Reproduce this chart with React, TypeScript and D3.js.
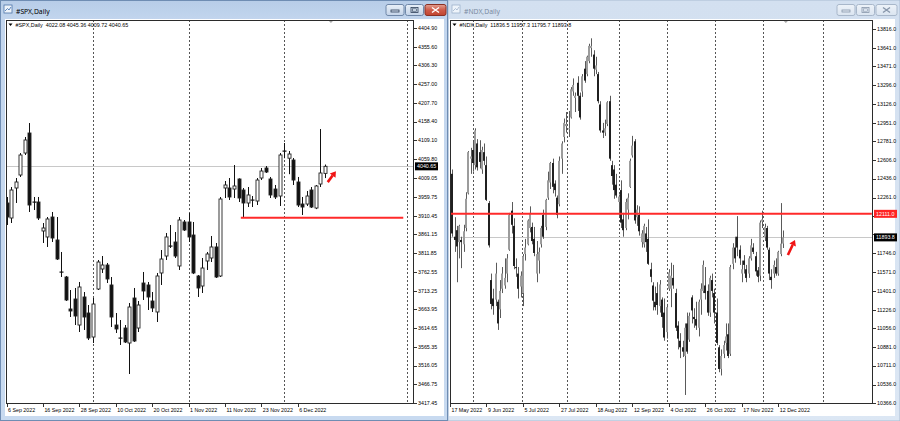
import React from 'react';
import * as d3 from 'd3';

// ---------------- SPX data (Daily, from 6 Sep 2022) ----------------
const spxOpen = [3944.1,3904.6,3983.6,4017.8,4075.7,4128.4,3944.1,3946.7,3870.4,3854.6,3907.2,3846.7,3762.4,3749.2,3665.0,3691.3,3622.8,3696.6,3654.4,3591.2,3717.6,3770.3,3780.8,3728.2,3622.8,3588.6,3614.9,3575.4,3693.9,3614.9,3733.4,3728.2,3686.0,3657.1,3759.8,3804.5,3830.9,3841.4,3778.2,3894.1,3894.1,3859.8,3751.9,3725.5,3791.4,3799.3,3828.3,3751.9,3983.6,3983.6,3980.9,4007.3,3978.3,3944.1,3949.3,3949.3,4009.9,4036.2,4007.3,3980.9,3962.5,4078.0,4062.0,4057.3,3999.4,3941.4,3941.4,3978.3,3930.9,3994.1,4022.08];
const spxHigh = [3959.9,3986.2,4009.9,4075.7,4117.9,4154.7,3959.9,3959.9,3891.4,3907.2,3920.4,3907.2,3815.1,3751.9,3715.0,3720.3,3736.1,3709.7,3675.5,3693.9,3794.0,3804.5,3786.1,3749.2,3654.4,3636.0,3622.8,3680.8,3720.3,3686.0,3762.4,3736.1,3709.7,3759.8,3820.3,3865.1,3886.2,3867.7,3907.2,3899.3,3917.8,3894.1,3754.5,3799.3,3815.1,3857.2,3838.8,3959.9,4002.0,4009.9,4044.1,4009.0,3983.6,3986.2,3962.5,4009.9,4036.2,4041.5,4012.6,3991.5,4075.7,4102.1,4081.0,4062.6,4012.6,3959.9,3975.7,3986.2,3991.5,4138.9,4045.36];
const spxLow = [3886.2,3891.4,3944.1,4012.6,4070.5,3920.4,3925.6,3899.3,3838.8,3828.3,3841.4,3794.0,3749.2,3686.0,3643.9,3622.8,3604.4,3609.7,3583.3,3575.4,3715.0,3759.8,3733.4,3617.6,3601.8,3570.2,3575.4,3493.8,3578.1,3604.4,3688.7,3662.3,3657.1,3630.7,3728.2,3794.0,3825.6,3799.3,3767.7,3870.4,3841.4,3757.0,3696.6,3707.1,3767.7,3788.7,3746.6,3749.2,3957.2,3952.0,3957.2,3946.7,3904.6,3933.5,3933.5,3938.8,4004.6,4023.1,3957.2,3954.6,3936.2,4062.0,4020.0,3991.5,3933.5,3912.5,3936.2,3930.9,3928.0,3986.2,4009.72];
const spxClose = [3907.2,3978.3,3999.4,4070.5,4110.0,3938.8,3946.7,3904.6,3878.3,3902.0,3851.9,3796.6,3759.8,3688.7,3659.7,3646.5,3722.9,3643.9,3588.6,3678.1,3788.7,3780.8,3744.0,3643.9,3612.3,3586.0,3578.1,3670.2,3580.7,3675.5,3712.4,3696.6,3667.6,3751.9,3796.6,3854.6,3828.3,3804.5,3899.3,3873.0,3854.6,3759.8,3720.3,3772.9,3809.8,3828.3,3749.2,3954.6,3991.5,3959.9,3988.9,3957.2,3944.1,3965.2,3952.0,4004.6,4028.3,4025.7,3965.2,3959.9,4070.5,4081.0,4073.1,4004.6,3938.8,3933.5,3962.5,3933.5,3988.9,4023.1,4040.65];
const spxDateLabels = ['6 Sep 2022','16 Sep 2022','28 Sep 2022','10 Oct 2022','20 Oct 2022','1 Nov 2022','11 Nov 2022','23 Nov 2022','6 Dec 2022'];
const spxDateBars = [0,8,16,24,32,40,48,56,64];
const spxPriceTicks = [4404.90,4355.60,4306.30,4257.00,4207.70,4158.40,4109.10,4059.80,4009.05,3959.75,3910.45,3861.15,3811.85,3762.55,3713.25,3663.95,3614.65,3565.35,3516.05,3466.75,3417.45];
const spxGridBars = [19,40,61,88];
const spxSupport = [3905];
const spxSupportBars = [51.5,87.2];
const spxArrow = { fromBar: 70.6, fromPrice: 3999, toBar: 72.4, toPrice: 4028 };
const spxLast = 4040.65;

// ---------------- NDX data (Daily, from 17 May 2022) ----------------
const ndxOpen = [12420,12480,11900,11960,11850,11870,11830,11980,12300,12620,12700,12560,12760,12680,12520,12680,12560,12210,11500,11330,11320,11300,11230,11420,11450,11560,11780,12140,12000,11620,11560,11440,11380,11740,11830,11980,11990,11880,11560,11680,11830,12100,11990,12260,12400,12580,12390,12260,12200,12620,12820,12920,12900,13000,13240,13180,13320,13200,13240,13450,13400,13520,13640,13580,13440,13400,13120,12880,12860,12940,13150,12560,12520,12380,12220,12330,12060,11980,12150,12360,12650,12780,12080,12100,11850,11830,11930,11880,11600,11450,11300,11380,11260,11320,11200,11020,11420,11420,11520,11380,11080,10940,10880,10800,11100,10950,11340,11160,11140,11060,11320,11400,11450,11400,11200,11500,11380,11200,10880,10680,10820,10920,11000,10820,11650,11800,11900,11780,11560,11680,11600,11560,11700,11800,11720,11590,11540,12040,11900,11980,11780,11530,11560,11620,11560,11740,11836.5];
const ndxHigh = [12580,12520,12080,12000,12010,11900,12010,12310,12690,12720,12780,12900,12800,12790,12730,12760,12640,12230,11560,11420,11660,11320,11500,11620,11700,11740,12120,12220,12070,11700,11620,11580,11740,11880,12060,12180,12030,11990,11860,11800,12000,12150,12250,12500,12590,12620,12420,12280,12640,12780,12990,13050,13060,13280,13360,13230,13380,13230,13400,13520,13570,13680,13730,13620,13560,13420,13150,12950,12980,13150,13200,12600,12560,12480,12290,12420,12120,12250,12300,12620,12830,12800,12190,12180,11960,12020,11990,12060,11660,11480,11440,11480,11500,11340,11330,11280,11600,11660,11640,11420,11120,11010,10940,11100,11200,11200,11360,11240,11300,11320,11470,11680,11620,11460,11540,11560,11420,11330,10900,10860,10940,11100,11100,11640,11840,11900,12090,11820,11680,11730,11640,11720,11880,11840,11760,11620,12050,12140,12020,12000,11800,11600,11680,11700,11770,12210,11957.3];
const ndxLow = [12350,11900,11760,11480,11700,11610,11760,11950,12290,12480,12500,12520,12510,12530,12480,12560,12230,11800,11230,11180,11260,11040,11150,11380,11420,11480,11770,11930,11600,11530,11330,11340,11260,11680,11820,11940,11830,11720,11480,11560,11800,11880,11960,12240,12340,12300,12270,12070,12180,12480,12770,12860,12820,12990,13200,13050,13060,12980,13190,13320,13380,13500,13560,13380,13400,13130,12860,12810,12830,12920,12600,12380,12250,12260,12080,11980,11900,11960,12060,12350,12630,12020,12000,11910,11800,11800,11760,11640,11480,11220,11220,11180,11200,11060,10940,10960,11400,11250,11420,11030,10860,10780,10790,10440,10820,10930,11100,11060,11040,10980,11180,11380,11320,11170,11160,11340,11100,10900,10650,10620,10780,10850,10780,10800,11600,11660,11720,11640,11480,11560,11480,11520,11680,11740,11540,11480,11490,11980,11860,11780,11500,11420,11520,11540,11540,11720,11795.7];
const ndxClose = [12564,11930,11870,11810,12000,11850,11950,12250,12680,12640,12580,12880,12540,12590,12700,12600,12240,11820,11280,11260,11560,11100,11400,11560,11520,11700,12100,12010,11630,11610,11420,11540,11720,11800,12050,12120,11860,11750,11740,11760,11980,11900,12240,12420,12580,12360,12330,12100,12600,12760,12950,12940,12900,13260,13300,13200,13200,13000,13380,13340,13560,13660,13660,13450,13480,13150,12880,12860,12900,13140,12620,12460,12330,12280,12270,12030,11960,12220,12260,12600,12740,12050,12150,11950,11930,12000,11850,11650,11530,11310,11250,11270,11460,11160,10970,11250,11570,11540,11450,11060,10960,10880,10840,11060,10840,11170,11220,11140,11080,11300,11420,11640,11380,11200,11520,11400,11200,10920,10680,10800,10900,10980,10800,11620,11800,11700,11800,11700,11600,11640,11520,11700,11820,11760,11580,11530,12030,12060,11990,11800,11560,11500,11640,11560,11760,11836,11893.8];
const ndxDateLabels = ['17 May 2022','9 Jun 2022','5 Jul 2022','27 Jul 2022','18 Aug 2022','12 Sep 2022','4 Oct 2022','26 Oct 2022','17 Nov 2022','12 Dec 2022'];
const ndxDateBars = [0,16,32,48,64,80,96,112,128,144];
const ndxPriceTicks = [13816.0,13641.0,13471.0,13296.0,13126.0,12951.0,12781.0,12606.0,12436.0,12261.0,12091.0,11921.0,11746.0,11571.0,11401.0,11226.0,11056.0,10881.0,10711.0,10536.0,10366.0];
const ndxGridBars = [10.1,31.6,51.3,74.1,95.2,116.2,137.3,163.6];
const ndxResistance = [12111.0];
const ndxResistanceBars = [-2,185];
const ndxArrow = { fromBar: 148.2, fromPrice: 11731, toBar: 151.3, toPrice: 11869 };
const ndxLast = 11893.8;

const FONT = 'Liberation Sans, Arial, sans-serif';

type PanelCfg = {
  title: string; header: string; active: boolean;
  winX0: number; winX1: number;
  plotX0: number; plotX1: number; plotY0: number; plotY1: number;
  barX0: number; barStep: number;
  priceDomain: [number, number]; priceRange: [number, number];
  open: number[]; high: number[]; low: number[]; close: number[];
  dateLabels: string[]; dateBars: number[]; priceTicks: number[]; decimals: number;
  gridBars: number[]; level: number[]; levelBars: number[]; levelBox: boolean;
  arrow: { fromBar: number; fromPrice: number; toBar: number; toPrice: number };
  last: number; bodyW: number; narrow: boolean; clipId: string;
};

function Arrow({ x1, y1, x2, y2 }: { x1: number; y1: number; x2: number; y2: number }) {
  const ang = Math.atan2(y2 - y1, x2 - x1);
  const hl = 5.5, hw = 3.6;
  const bx = x2 - hl * Math.cos(ang), by = y2 - hl * Math.sin(ang);
  const px = -Math.sin(ang), py = Math.cos(ang);
  const head = `M${x2},${y2}L${bx + px * hw},${by + py * hw}L${bx - px * hw},${by - py * hw}Z`;
  return (
    <g>
      <line x1={x1} y1={y1} x2={bx} y2={by} stroke="#f01414" strokeWidth={2.6} />
      <path d={head} fill="#f01414" />
    </g>
  );
}

function Buttons({ x, active }: { x: number; active: boolean }) {
  const stroke = active ? '#6f87a8' : '#a8b7ca';
  const fill = active ? 'url(#btnA)' : 'url(#btnI)';
  const glyph = active ? '#2c3e57' : '#8796aa';
  return (
    <g>
      <rect x={x} y={4.5} width={18} height={11} rx={2} fill={fill} stroke={stroke} />
      <rect x={x + 5} y={10} width={8} height={2} fill="none" stroke={glyph} strokeWidth={0.8} />
      <rect x={x + 19.5} y={4.5} width={18} height={11} rx={2} fill={fill} stroke={stroke} />
      <rect x={x + 25} y={7.5} width={7} height={5} fill="none" stroke={glyph} strokeWidth={0.8} />
      <rect x={x + 26.5} y={8.8} width={4} height={2.4} fill="none" stroke={glyph} strokeWidth={0.6} />
      <rect x={x + 39} y={4.5} width={21} height={11} rx={2} fill={active ? 'url(#btnC)' : fill} stroke={active ? '#8a3024' : stroke} />
      <path d={`M${x + 46},${7.5}L${x + 53},${12.5}M${x + 53},${7.5}L${x + 46},${12.5}`} stroke={active ? '#ffffff' : glyph} strokeWidth={1.4} />
    </g>
  );
}

function Panel({ c }: { c: PanelCfg }) {
  const n = c.open.length;
  const x = d3.scaleLinear().domain([0, 1]).range([c.barX0, c.barX0 + c.barStep]);
  const y = d3.scaleLinear().domain(c.priceDomain).range(c.priceRange);
  const fmt = (v: number) => v.toFixed(c.decimals);
  const lastY = y(c.last);
  const boxYs = [lastY, ...(c.levelBox ? c.level.map((lv) => y(lv)) : [])];
  const candles = d3.range(n).map((i) => {
    const cx = Math.round(x(i));
    const o = y(c.open[i]), cl = y(c.close[i]), h = y(c.high[i]), l = y(c.low[i]);
    const bull = c.close[i] >= c.open[i];
    const top = Math.min(o, cl), bh = Math.max(Math.abs(o - cl), 1);
    const wickColor = c.narrow ? '#5a5a5a' : '#111';
    let body;
    if (c.narrow) {
      body = <rect x={cx - 1} y={top} width={c.bodyW} height={bh} fill={bull ? '#9c9c9c' : '#202020'} />;
    } else if (Math.abs(o - cl) < 1.2) {
      body = <rect x={cx - 1.5} y={top - 0.5} width={c.bodyW + 1} height={1.2} fill="#111" />;
    } else {
      body = <rect x={cx - 1} y={top} width={c.bodyW} height={bh} fill={bull ? '#ffffff' : '#111111'} stroke="#222" strokeWidth={0.9} />;
    }
    return (
      <g key={i}>
        <line x1={cx + 0.5} x2={cx + 0.5} y1={h} y2={l} stroke={wickColor} strokeWidth={1} />
        {body}
      </g>
    );
  });
  const markX = x(n + 0.3);
  const textCol = c.active ? '#000000' : '#7a8ba2';
  return (
    <g>
      {/* title bar text and icon */}
      <rect x={c.winX0 + 4} y={5} width={8} height={8} fill="#eef4fb" stroke={c.active ? '#4d74a8' : '#9fb3cc'} strokeWidth={0.8} />
      <path d={`M${c.winX0 + 5},${11}L${c.winX0 + 7.5},${8.5}L${c.winX0 + 9},${10}L${c.winX0 + 11},${7}`} fill="none" stroke={c.active ? '#3b6db0' : '#9fb3cc'} strokeWidth={0.8} />
      <text x={c.winX0 + 16} y={13.5} fontFamily="Noto Sans, sans-serif" fontSize={6.8} fill={textCol}>{c.title}</text>
      <Buttons x={c.winX1 - 62} active={c.active} />
      {/* client */}
      <rect x={c.winX0 + (c.active ? 5 : 1)} y={19} width={c.winX1 - c.winX0 - (c.active ? 9 : 5)} height={397} fill="#ffffff" />
      <clipPath id={c.clipId}>
        <rect x={c.plotX0} y={c.plotY0} width={c.plotX1 - c.plotX0} height={c.plotY1 - c.plotY0} />
      </clipPath>
      <g clipPath={`url(#${c.clipId})`}>
        {c.gridBars.map((b, i) => (
          <line key={i} x1={Math.round(x(b)) + 0.5} x2={Math.round(x(b)) + 0.5} y1={c.plotY0} y2={c.plotY1} stroke="#555" strokeWidth={1} strokeDasharray="2,2" />
        ))}
        <line x1={c.plotX0} x2={c.plotX1} y1={Math.round(lastY) + 0.5} y2={Math.round(lastY) + 0.5} stroke="#c8c8c8" strokeWidth={1} />
        {candles}
        {c.level.map((lv, i) => (
          <line key={i} x1={x(c.levelBars[0])} x2={x(c.levelBars[1])} y1={y(lv)} y2={y(lv)} stroke="#ff2a2a" strokeWidth={2} />
        ))}
        <Arrow x1={x(c.arrow.fromBar)} y1={y(c.arrow.fromPrice)} x2={x(c.arrow.toBar)} y2={y(c.arrow.toPrice)} />
        <path d={`M${markX - 3},${c.plotY0}L${markX + 3},${c.plotY0}L${markX},${c.plotY0 + 3}Z`} fill="#a8a8a8" />
      </g>
      <rect x={c.plotX0 + 0.5} y={c.plotY0 + 0.5} width={c.plotX1 - c.plotX0 - 1} height={c.plotY1 - c.plotY0 - 1} fill="none" stroke="#2b2b2b" strokeWidth={1} />
      {/* header */}
      <path d={`M${c.plotX0 + 2.5},${23.5}L${c.plotX0 + 6.5},${23.5}L${c.plotX0 + 4.5},${26}Z`} fill="#000" />
      <text x={c.plotX0 + 9.5} y={27} fontFamily={FONT} fontSize={5.4} fill="#000" style={{ whiteSpace: 'pre' }}>{c.header}</text>
      {/* price axis */}
      {c.priceTicks.map((v, i) => {
        const ty = y(v);
        const hidden = boxYs.some((by) => Math.abs(by - ty) < 7);
        return (
          <g key={i}>
            <line x1={c.plotX1} x2={c.plotX1 + 3} y1={Math.round(ty) + 0.5} y2={Math.round(ty) + 0.5} stroke="#333" strokeWidth={1} />
            {!hidden && <text x={c.plotX1 + 4} y={ty} dy="0.35em" fontFamily={FONT} fontSize={5.3} fill="#000">{fmt(v)}</text>}
          </g>
        );
      })}
      {c.levelBox && c.level.map((lv, i) => (
        <g key={'lb' + i}>
          <rect x={c.plotX1 + 1} y={y(lv) - 4} width={23} height={8} fill="#ff2424" />
          <text x={c.plotX1 + 3} y={y(lv)} dy="0.35em" fontFamily={FONT} fontSize={5.3} fill="#fff">{fmt(lv)}</text>
        </g>
      ))}
      <rect x={c.plotX1 + 1} y={lastY - 4} width={23} height={8} fill="#000" />
      <text x={c.plotX1 + 3} y={lastY} dy="0.35em" fontFamily={FONT} fontSize={5.3} fill="#fff">{c.last.toFixed(c.decimals)}</text>
      {/* date axis */}
      {c.dateBars.map((b, i) => (
        <g key={i}>
          <line x1={Math.round(x(b)) + 0.5} x2={Math.round(x(b)) + 0.5} y1={c.plotY1} y2={c.plotY1 + 3} stroke="#333" strokeWidth={1} />
          <text x={x(b) + 1.5} y={412} fontFamily={FONT} fontSize={5.3} fill="#000">{c.dateLabels[i]}</text>
        </g>
      ))}
    </g>
  );
}

export default function App() {
  const left: PanelCfg = {
    title: '#SPX,Daily', header: '#SPX,Daily  4022.08 4045.36 4009.72 4040.65', active: true,
    winX0: 0, winX1: 448, plotX0: 6, plotX1: 414, plotY0: 20, plotY1: 404,
    barX0: 6.5, barStep: 4.55, priceDomain: [3417.45, 4404.9], priceRange: [403, 28],
    open: spxOpen, high: spxHigh, low: spxLow, close: spxClose,
    dateLabels: spxDateLabels, dateBars: spxDateBars, priceTicks: spxPriceTicks, decimals: 2,
    gridBars: spxGridBars, level: spxSupport, levelBars: spxSupportBars, levelBox: false,
    arrow: spxArrow, last: spxLast, bodyW: 3, narrow: false, clipId: 'clipL',
  };
  const right: PanelCfg = {
    title: '#NDX,Daily', header: '#NDX,Daily  11836.5 11957.3 11795.7 11893.8', active: false,
    winX0: 448, winX1: 899, plotX0: 450, plotX1: 873, plotY0: 20, plotY1: 404,
    barX0: 450, barStep: 2.28, priceDomain: [10366, 13816], priceRange: [403, 29],
    open: ndxOpen, high: ndxHigh, low: ndxLow, close: ndxClose,
    dateLabels: ndxDateLabels, dateBars: ndxDateBars, priceTicks: ndxPriceTicks, decimals: 1,
    gridBars: ndxGridBars, level: ndxResistance, levelBars: ndxResistanceBars, levelBox: true,
    arrow: ndxArrow, last: ndxLast, bodyW: 2, narrow: true, clipId: 'clipR',
  };
  return (
    <svg width={900} height={421} style={{ position: 'absolute', left: 0, top: 0, display: 'block' }}>
      <defs>
        <linearGradient id="frameA" x1="0" y1="0" x2="0" y2="1">
          <stop offset="0" stopColor="#b7cde8" />
          <stop offset="0.05" stopColor="#c3d6ee" />
          <stop offset="1" stopColor="#c8daf0" />
        </linearGradient>
        <linearGradient id="frameI" x1="0" y1="0" x2="0" y2="1">
          <stop offset="0" stopColor="#d3e0f0" />
          <stop offset="1" stopColor="#dce7f4" />
        </linearGradient>
        <linearGradient id="btnA" x1="0" y1="0" x2="0" y2="1">
          <stop offset="0" stopColor="#e9f0f8" />
          <stop offset="1" stopColor="#c3d3e8" />
        </linearGradient>
        <linearGradient id="btnI" x1="0" y1="0" x2="0" y2="1">
          <stop offset="0" stopColor="#eef3f9" />
          <stop offset="1" stopColor="#dae4f0" />
        </linearGradient>
        <linearGradient id="btnC" x1="0" y1="0" x2="0" y2="1">
          <stop offset="0" stopColor="#e3a193" />
          <stop offset="0.5" stopColor="#cf5b49" />
          <stop offset="1" stopColor="#c0432f" />
        </linearGradient>
      </defs>
      <rect x={0} y={0} width={900} height={421} fill="#c9d9ec" />
      <rect x={448} y={0} width={452} height={421} fill="url(#frameI)" stroke="#a9bbd2" strokeWidth={1} />
      <rect x={0.5} y={0.5} width={447} height={420} fill="url(#frameA)" stroke="#6f8db3" strokeWidth={1} />
      <Panel c={left} />
      <Panel c={right} />
    </svg>
  );
}
